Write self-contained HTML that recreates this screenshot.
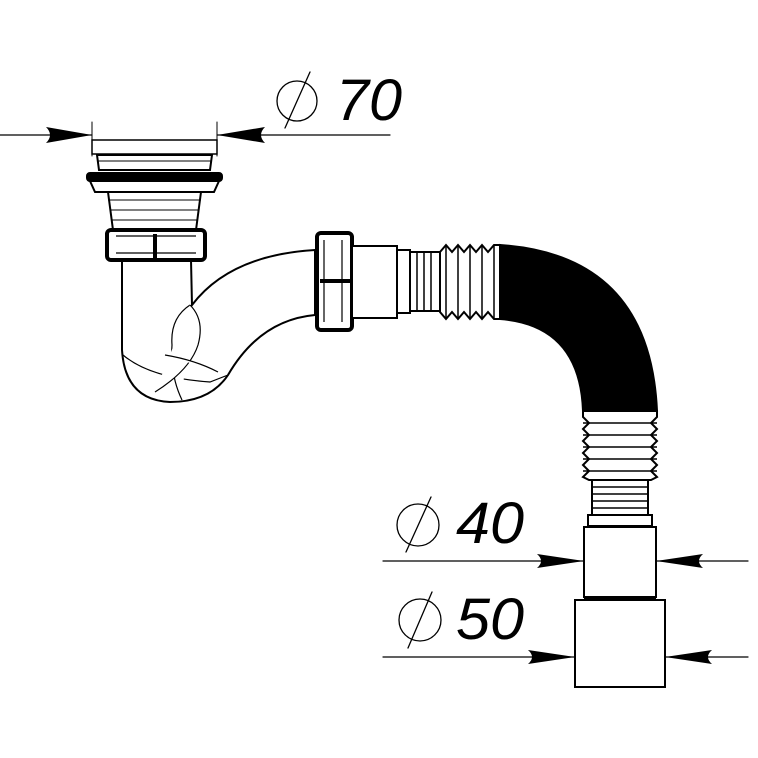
<!DOCTYPE html>
<html><head><style>body{margin:0;background:#fff}svg{display:block}</style></head><body>
<svg width="758" height="758" viewBox="0 0 758 758" xmlns="http://www.w3.org/2000/svg" font-family="Liberation Sans, sans-serif">
<g stroke="#000" fill="none" stroke-linecap="round">
<!-- dimension 70 -->
<line x1="0" y1="135" x2="92" y2="135" stroke-width="1.2"/>
<line x1="217" y1="135" x2="390" y2="135" stroke-width="1.2"/>
<line x1="92" y1="122" x2="92" y2="156" stroke-width="1"/>
<line x1="217" y1="122" x2="217" y2="156" stroke-width="1"/>
<circle cx="297" cy="101" r="20" stroke-width="1.3"/>
<line x1="285" y1="128" x2="310" y2="72" stroke-width="1.3"/>
<!-- dimension 40 -->
<line x1="383" y1="561" x2="584" y2="561" stroke-width="1.2"/>
<line x1="656" y1="561" x2="748" y2="561" stroke-width="1.2"/>
<circle cx="418" cy="525" r="21" stroke-width="1.3"/>
<line x1="406" y1="552" x2="431" y2="497" stroke-width="1.3"/>
<!-- dimension 50 -->
<line x1="383" y1="657" x2="575" y2="657" stroke-width="1.2"/>
<line x1="665" y1="657" x2="748" y2="657" stroke-width="1.2"/>
<circle cx="420" cy="620" r="21" stroke-width="1.3"/>
<line x1="408" y1="648" x2="432" y2="592" stroke-width="1.3"/>
</g>
<g fill="#000">
<path d="M92 135 L46 127 Q54 135 46 143 Z"/>
<path d="M217 135 L265 127 Q257 135 265 143 Z"/>
<path d="M584 561 L537 554 Q545 561 537 568 Z"/>
<path d="M656 561 L703 554 Q695 561 703 568 Z"/>
<path d="M575 657 L528 650 Q536 657 528 664 Z"/>
<path d="M665 657 L712 650 Q704 657 712 664 Z"/>
</g>
<g font-style="italic" font-size="58" fill="#000">
<text x="336" y="120" textLength="66" lengthAdjust="spacingAndGlyphs">70</text>
<text x="456" y="543" textLength="68" lengthAdjust="spacingAndGlyphs">40</text>
<text x="456" y="639" textLength="68" lengthAdjust="spacingAndGlyphs">50</text>
</g>
<g stroke="#000" fill="#fff" stroke-width="2">
<!-- drain cap -->
<rect x="92" y="140" width="125" height="14" stroke-width="1.5"/>
<path d="M97 155 L212 155 L210 170 L99 170 Z"/>
<line x1="98" y1="161" x2="211" y2="161" stroke-width="1"/>
<rect x="87" y="173" width="135" height="8" rx="3" fill="#000"/>
<path d="M90 181 L219 181 L214 192 L95 192 Z"/>
<path d="M108 192 L201 192 L196 230 L113 230 Z"/>
<line x1="108" y1="200" x2="201" y2="200" stroke-width="1"/>
<line x1="110" y1="210" x2="199" y2="210" stroke-width="1"/>
<line x1="112" y1="220" x2="197" y2="220" stroke-width="1"/>
<!-- trap pipe -->
<path d="M122 260 L122 350 Q125 400 170 402 Q210 402 228 375 Q260 320 315 315 L315 250 Q230 255 192 305 L191 260 Z"/>
<path d="M123 355 Q150 378 210 382 L228 375" stroke-width="1.2"/>
<path d="M190 305 Q170 318 172 345 Q170 375 182 400" stroke-width="1.2"/>
<path d="M190 305 Q205 320 198 345 Q190 370 155 392" stroke-width="1.2"/>
<path d="M165 355 Q195 360 218 372" stroke-width="1.2"/>
<!-- trap nut -->
<rect x="107" y="230" width="98" height="30" rx="4" stroke-width="4"/>
<line x1="116" y1="236" x2="196" y2="236" stroke-width="1.2"/>
<line x1="116" y1="253" x2="196" y2="253" stroke-width="1.2"/>
<line x1="155" y1="234" x2="155" y2="258" stroke-width="4"/>
<!-- outlet nut -->
<rect x="317" y="233" width="35" height="97" rx="4" stroke-width="4"/>
<line x1="324" y1="240" x2="324" y2="322" stroke-width="1.2"/>
<line x1="342" y1="240" x2="342" y2="322" stroke-width="1.2"/>
<line x1="320" y1="281" x2="350" y2="281" stroke-width="4"/>
<rect x="352" y="246" width="45" height="72"/>
<rect x="397" y="250" width="13" height="63"/>
<!-- narrow horizontal ribs -->
<rect x="410" y="252" width="30" height="59"/>
<g stroke-width="1.5"><line x1="417" y1="252" x2="417" y2="311"/><line x1="424" y1="252" x2="424" y2="311"/><line x1="431" y1="252" x2="431" y2="311"/></g>
<!-- horizontal corrugated -->
<path d="M440 252 L446 245 L452 252 L458 245 L464 252 L470 245 L476 252 L482 245 L488 252 L494 245 L500 245 L500 319 L494 319 L488 312 L482 319 L476 312 L470 319 L464 312 L458 319 L452 312 L446 319 L440 312 Z"/>
<g stroke-width="1.5"><line x1="446" y1="245" x2="446" y2="319"/><line x1="458" y1="245" x2="458" y2="319"/><line x1="470" y1="245" x2="470" y2="319"/><line x1="482" y1="245" x2="482" y2="319"/><line x1="494" y1="245" x2="494" y2="319"/></g>
<!-- black elbow -->
<path d="M500 245 Q650 255 657 411 L583 411 Q580 325 500 319 Z" fill="#000"/>
<!-- vertical corrugated -->
<path d="M583 411 L657 411 L657 417 L651 423 L657 429 L651 435 L657 441 L651 447 L657 453 L651 459 L657 465 L651 471 L657 477 L651 480 L589 480 L583 477 L589 471 L583 465 L589 459 L583 453 L589 447 L583 441 L589 435 L583 429 L589 423 L583 417 Z"/>
<g stroke-width="1.5"><line x1="583" y1="423" x2="657" y2="423"/><line x1="583" y1="435" x2="657" y2="435"/><line x1="583" y1="447" x2="657" y2="447"/><line x1="583" y1="459" x2="657" y2="459"/><line x1="583" y1="471" x2="657" y2="471"/></g>
<rect x="592" y="480" width="56" height="35"/>
<g stroke-width="1.5"><line x1="592" y1="487" x2="648" y2="487"/><line x1="592" y1="494" x2="648" y2="494"/><line x1="592" y1="501" x2="648" y2="501"/><line x1="592" y1="508" x2="648" y2="508"/></g>
<rect x="588" y="515" width="64" height="11"/>
<!-- bottom sockets -->
<rect x="584" y="527" width="72" height="70"/>
<rect x="575" y="600" width="90" height="87"/>
<line x1="584" y1="598" x2="656" y2="598" stroke-width="3"/>
</g>
</svg>
</body></html>
